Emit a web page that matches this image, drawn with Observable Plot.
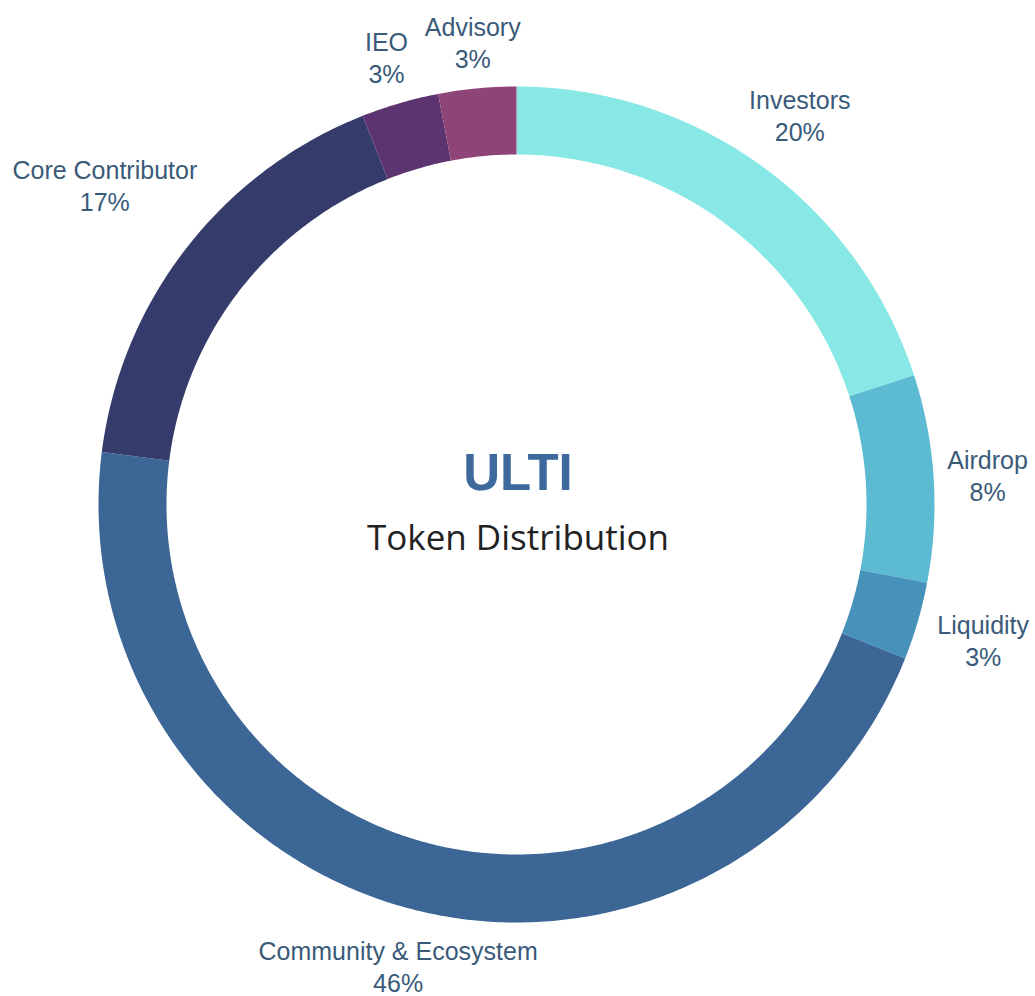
<!DOCTYPE html>
<html>
<head>
<meta charset="utf-8">
<script src="https://cdn.jsdelivr.net/npm/d3@7"></script>
<script src="https://cdn.jsdelivr.net/npm/@observablehq/plot@0.6"></script>
<style>
  html, body { margin: 0; padding: 0; background: #fff; }
  #chart svg { display: block; }
</style>
</head>
<body>
<div id="chart"></div>
<script>
// ---- data ----
const categories = ["Investors", "Airdrop", "Liquidity", "Community & Ecosystem", "Core Contributor", "IEO", "Advisory"];
const shares = [20, 8, 3, 46, 17, 3, 3];
const sliceColors = ["#87e8e5", "#5cbbd2", "#4692ba", "#3c6696", "#353c6b", "#5c3470", "#8f4477"];
const labelDist = [482, 472, 486, 476, 521, 466, 465];
const title = "ULTI";
const subtitle = "Token Distribution";

// ---- geometry (donut built from the data) ----
const R_OUT = 418, R_IN = 350;
const total = d3.sum(shares);
let acc = 0;
const slices = categories.map((name, i) => {
  const a0 = acc / total * 2 * Math.PI;
  acc += shares[i];
  const a1 = acc / total * 2 * Math.PI;
  return {name, value: shares[i], a0, a1, mid: (a0 + a1) / 2, dist: labelDist[i]};
});

const ringPts = [];
for (const s of slices) {
  const n = Math.max(8, Math.ceil((s.a1 - s.a0) / 0.01));
  for (let k = 0; k <= n; k++) {
    const a = s.a0 + (s.a1 - s.a0) * k / n;
    ringPts.push({name: s.name, x: R_OUT * Math.sin(a), y: R_OUT * Math.cos(a)});
  }
  for (let k = n; k >= 0; k--) {
    const a = s.a0 + (s.a1 - s.a0) * k / n;
    ringPts.push({name: s.name, x: R_IN * Math.sin(a), y: R_IN * Math.cos(a)});
  }
}

const labels = slices.map(s => ({
  text: `${s.name}\n${s.value}%`,
  x: s.dist * Math.sin(s.mid),
  y: s.dist * Math.cos(s.mid)
}));

const plot = Plot.plot({
  width: 1035,
  height: 996,
  margin: 0,
  style: {background: "#fff"},
  x: {domain: [-516, 519], axis: null},
  y: {domain: [-492, 504], axis: null},
  color: {domain: categories, range: sliceColors},
  marks: [
    Plot.line(ringPts, {x: "x", y: "y", z: "name", fill: "name", stroke: "none", curve: "linear"}),
    Plot.text(labels, {
      x: "x", y: "y", text: "text",
      fontSize: 25, lineHeight: 1.28, fill: "#3a5a7a",
      fontFamily: "Liberation Sans, Arial, sans-serif"
    }),
    Plot.text([title], {
      frameAnchor: "middle", dx: 0, dy: -25,
      fontSize: 51, fontWeight: "bold", fill: "#3d699d",
      fontFamily: "Liberation Sans, Arial, sans-serif",
      style: "letter-spacing: 3px"
    }),
    Plot.text([subtitle], {
      frameAnchor: "middle", dx: 0, dy: 40,
      fontSize: 35, fill: "#222",
      fontFamily: "Open Sans, sans-serif",
      style: "letter-spacing: 1.8px"
    })
  ]
});
document.getElementById("chart").appendChild(plot);
</script>
</body>
</html>
